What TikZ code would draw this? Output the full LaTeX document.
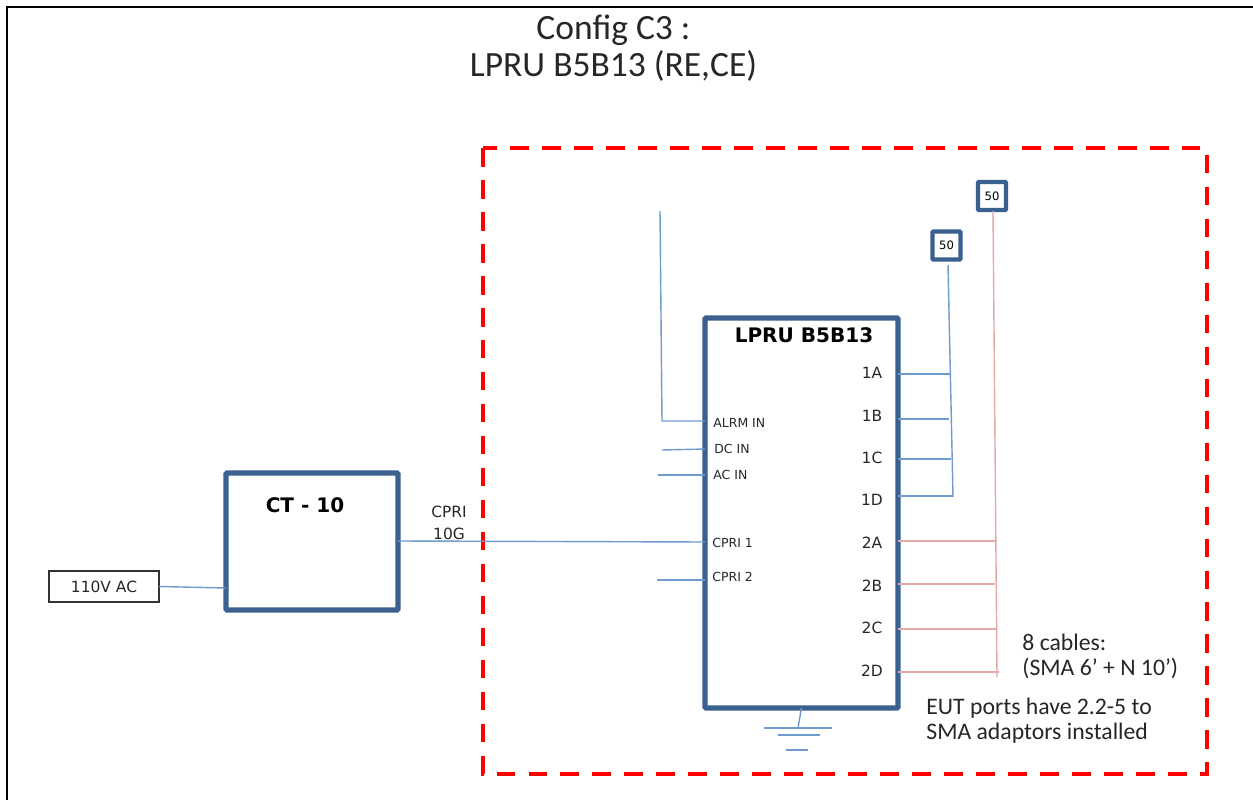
\documentclass[tikz,border=0pt]{standalone}
\usepackage{fontspec}
\setmainfont{Carlito}
\newfontfamily\labelfont{DejaVu Sans}
\usetikzlibrary{positioning}
\definecolor{boxblue}{HTML}{3A6090}
\definecolor{wireblue}{HTML}{6F9BD1}
\definecolor{wirered}{HTML}{E6A8A8}
\tikzset{
	bluebox/.style={draw=boxblue, line width=2.9pt, rounded corners=0.5pt, inner sep=0pt, outer sep=0pt},
	tinybox/.style={draw=boxblue, line width=2.4pt, rounded corners=0.5pt, inner sep=0pt, outer sep=0pt, minimum size=0.56cm, font=\labelfont\fontsize{6.6}{8}\selectfont},
	bluewire/.style={draw=wireblue, line width=0.8pt},
	redwire/.style={draw=wirered, line width=0.8pt},
	portlabel/.style={anchor=west, inner sep=0pt, text=black!85, font=\labelfont\fontsize{7.1}{8}\selectfont},
	sidelabel/.style={inner sep=0pt, text=black!85, font=\labelfont\fontsize{8.8}{10}\selectfont},
	notelabel/.style={anchor=west, align=left, inner sep=0pt, text=black!85, font=\fontsize{13.5}{14.2}\selectfont}
}
\begin{document}
\begin{tikzpicture}[x=0.02cm, y=-0.02cm]
	\useasboundingbox (0,0) rectangle (1253,800);
	\draw[line width=1.2pt] (7,800) -- (7,7) -- (1253,7);

	\node[align=center, inner sep=0pt, text=black!85, font=\fontsize{20.2}{21}\selectfont] (title) at (613.5,48) {Config C3 :\\LPRU B5B13 (RE,CE)};

	\draw[red, line width=2.7pt, dash pattern=on 10.6pt off 7.6pt] (483,148) rectangle (1207,774);

	\node[bluebox, minimum width=3.86cm, minimum height=7.8cm] (lpru) at (801.5,513) {};
	\node[inner sep=0pt, font=\labelfont\bfseries\fontsize{11.4}{12}\selectfont] (lprutitle) at (804,335) {LPRU B5B13};

	\node[bluebox, minimum width=3.44cm, minimum height=2.74cm] (ct) at (312,541.5) {};
	\node[inner sep=0pt, font=\labelfont\bfseries\fontsize{11.4}{12}\selectfont] (cttitle) at (305,505) {CT - 10};

	\node[draw=black!80, line width=0.6pt, inner sep=0pt, outer sep=0pt, minimum width=2.2cm, minimum height=0.62cm, text=black!85, font=\labelfont\fontsize{8.8}{10}\selectfont] (ac) at (104,586.5) {110V AC};

	\node[tinybox] (loadb) at (946.5,245.5) {50};
	\node[tinybox] (loada) at (992,196) {50};

	\node[portlabel] (alrmlabel) at (713,423) {ALRM IN};
	\node[portlabel] (dclabel) at (714,449) {DC IN};
	\node[portlabel] (aclabel) at (713,475) {AC IN};
	\node[portlabel] (cprilabela) at (712,543) {CPRI 1};
	\node[portlabel] (cprilabelb) at (712,577) {CPRI 2};

	\node[sidelabel] (labela) at (872,372.5) {1A};
	\node[sidelabel] (labelb) at (872,415.5) {1B};
	\node[sidelabel] (labelc) at (872,457.5) {1C};
	\node[sidelabel] (labeld) at (872,499.5) {1D};
	\node[sidelabel] (labele) at (872,542.5) {2A};
	\node[sidelabel] (labelf) at (872,585.5) {2B};
	\node[sidelabel] (labelg) at (872,627.5) {2C};
	\node[sidelabel] (labelh) at (872,670.5) {2D};

	\node[sidelabel] (cprilink) at (449,512) {CPRI};
	\node[sidelabel] (ratelink) at (449,534) {10G};

	\node[notelabel] (cablenote) at (1022,656.5) {8 cables:\\(SMA 6’ + N 10’)};
	\node[notelabel] (eutnote) at (926,721) {EUT ports have 2.2-5 to\\SMA adaptors installed};

	\coordinate (alrmtop) at (660,211);
	\coordinate (alrmbend) at (662,421);
	\coordinate (dcend) at (662,450);
	\coordinate (acend) at (658,475);
	\coordinate (cpriend) at (657,580);
	\coordinate (busbtop) at (948,265);
	\coordinate (busbend) at (953,497);
	\coordinate (busatop) at (993,211);
	\coordinate (busaend) at (997,677);

	\draw[bluewire] (ac.east |- 0,586.5) -- (ct.west |- 0,588);
	\draw[bluewire] (ct.east |- 0,541) -- (lpru.west |- 0,542);
	\draw[bluewire] (alrmtop) -- (alrmbend) -- (lpru.west |- alrmbend);
	\draw[bluewire] (dcend) -- (lpru.west |- 0,449);
	\draw[bluewire] (acend) -- (lpru.west |- acend);
	\draw[bluewire] (cpriend) -- (lpru.west |- cpriend);

	\draw[bluewire] (busbtop) -- (busbend);
	\draw[bluewire] (lpru.east |- 0,374) -- (950,374);
	\draw[bluewire] (lpru.east |- 0,419) -- (949,419);
	\draw[bluewire] (lpru.east |- 0,459) -- (951,459);
	\draw[bluewire] (lpru.east |- 0,496) -- (953,496);

	\draw[redwire] (busatop) -- (busaend);
	\draw[redwire] (lpru.east |- 0,541) -- (995,541);
	\draw[redwire] (lpru.east |- 0,584) -- (995,584);
	\draw[redwire] (lpru.east |- 0,629) -- (996,629);
	\draw[redwire] (lpru.east |- 0,672) -- (999,672);

	\coordinate (gnd) at (798,728);
	\draw[bluewire] (lpru.south |- 0,708) -- (gnd);
	\draw[bluewire] (764,728) -- (832,728);
	\draw[bluewire] (778,735) -- (820,735);
	\draw[bluewire] (786,750) -- (808,750);
\end{tikzpicture}
\end{document}
